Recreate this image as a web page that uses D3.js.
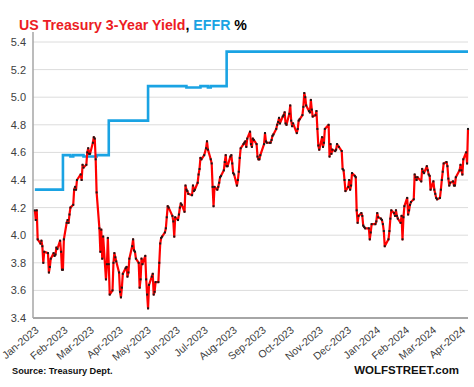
<!DOCTYPE html>
<html lang="en">
<head>
<meta charset="UTF-8">
<title>US Treasury 3-Year Yield, EFFR</title>
<style>
    body { margin: 0; background: #fff; }
    svg { display: block; font-family: "Liberation Sans", Arial, sans-serif; }
    .tick text { fill: #404040; }
</style>
</head>
<body>
<svg width="474" height="387"></svg>
<script src="https://d3js.org/d3.v7.min.js"></script>
<script>
    // axis labels
    const tickLabels = ["Jan-2023", "Feb-2023", "Mar-2023", "Apr-2023", "May-2023", "Jun-2023",
        "Jul-2023", "Aug-2023", "Sep-2023", "Oct-2023", "Nov-2023", "Dec-2023",
        "Jan-2024", "Feb-2024", "Mar-2024", "Apr-2024"];
    const yTicks = [3.4, 3.6, 3.8, 4.0, 4.2, 4.4, 4.6, 4.8, 5.0, 5.2, 5.4];

    // EFFR, value changes only
    const effrDates = ["2023-01-03", "2023-02-02", "2023-02-10", "2023-02-13", "2023-02-24", "2023-03-10",
        "2023-03-23", "2023-05-04", "2023-06-14", "2023-06-29", "2023-07-07", "2023-07-10",
        "2023-07-27", "2024-04-10"];
    const effrValues = [4.33, 4.58, 4.57, 4.58, 4.57, 4.58, 4.83, 5.08, 5.07, 5.08, 5.07, 5.08, 5.33, 5.33];

    // bond market closed
    const holidays = ["2023-01-02", "2023-01-16", "2023-02-20", "2023-05-29", "2023-06-19", "2023-07-04",
        "2023-09-04", "2023-10-09", "2023-11-10", "2023-11-23", "2023-12-25", "2024-01-01",
        "2024-01-15", "2024-02-19", "2024-03-29"];

    // 3-year yield, one value per trading day, month by month
    const yieldMonths = ["2023-01", "2023-02", "2023-03", "2023-04", "2023-05", "2023-06", "2023-07", "2023-08",
        "2023-09", "2023-10", "2023-11", "2023-12", "2024-01", "2024-02", "2024-03", "2024-04"];
    const yieldValues = [
        [4.18, 4.11, 4.18, 3.97, 3.94, 3.96, 3.92, 3.80, 3.88, 3.87, 3.73, 3.77, 3.83, 3.87, 3.85, 3.86, 3.91, 3.90, 3.96, 3.88],
        [3.75, 3.75, 3.97, 4.09, 4.11, 4.09, 4.15, 4.20, 4.22, 4.33, 4.35, 4.33, 4.40, 4.44, 4.40, 4.51, 4.49, 4.51, 4.60],
        [4.63, 4.59, 4.59, 4.67, 4.71, 4.70, 4.55, 4.31, 4.05, 3.88, 4.04, 3.83, 3.99, 3.68, 3.79, 3.98, 3.79, 3.57, 3.60, 3.80, 3.87, 3.84, 3.81],
        [3.73, 3.59, 3.55, 3.62, 3.72, 3.76, 3.77, 3.70, 3.73, 3.83, 3.92, 3.97, 3.89, 3.88, 3.83, 3.80, 3.62, 3.68, 3.83, 3.79],
        [3.85, 3.68, 3.57, 3.47, 3.64, 3.70, 3.72, 3.57, 3.59, 3.66, 3.66, 3.80, 3.94, 3.98, 3.99, 4.02, 4.05, 4.13, 4.21, 4.20, 4.14, 4.10],
        [3.99, 4.13, 4.11, 4.15, 4.20, 4.23, 4.22, 4.17, 4.36, 4.33, 4.32, 4.30, 4.29, 4.36, 4.32, 4.33, 4.38, 4.44, 4.48, 4.56, 4.55],
        [4.58, 4.63, 4.68, 4.62, 4.55, 4.52, 4.35, 4.21, 4.35, 4.33, 4.35, 4.38, 4.42, 4.43, 4.47, 4.53, 4.58, 4.50, 4.50, 4.57],
        [4.58, 4.52, 4.45, 4.44, 4.36, 4.40, 4.46, 4.56, 4.63, 4.66, 4.67, 4.68, 4.64, 4.70, 4.75, 4.66, 4.64, 4.70, 4.69, 4.66, 4.57, 4.55, 4.55],
        [4.58, 4.66, 4.74, 4.68, 4.67, 4.67, 4.67, 4.69, 4.72, 4.73, 4.77, 4.80, 4.82, 4.85, 4.81, 4.86, 4.87, 4.89, 4.81, 4.80],
        [4.88, 4.94, 4.83, 4.79, 4.81, 4.74, 4.77, 4.83, 4.84, 4.87, 4.93, 5.03, 5.00, 4.94, 4.90, 4.89, 4.98, 4.91, 4.86, 4.87, 4.90],
        [4.77, 4.65, 4.62, 4.71, 4.64, 4.67, 4.77, 4.80, 4.57, 4.66, 4.59, 4.62, 4.61, 4.62, 4.66, 4.64, 4.61, 4.48, 4.47, 4.40],
        [4.32, 4.35, 4.40, 4.33, 4.36, 4.45, 4.43, 4.42, 4.18, 4.09, 4.14, 4.16, 4.14, 4.07, 4.06, 4.05, 4.05, 3.97, 4.02, 4.08],
        [4.08, 4.10, 4.16, 4.13, 4.12, 4.11, 4.08, 4.03, 3.92, 3.97, 4.03, 4.12, 4.18, 4.16, 4.14, 4.18, 4.14, 4.12, 4.09, 4.14, 3.97],
        [4.13, 4.21, 4.27, 4.15, 4.18, 4.22, 4.24, 4.26, 4.44, 4.42, 4.40, 4.42, 4.39, 4.48, 4.46, 4.45, 4.50, 4.47, 4.44, 4.43],
        [4.33, 4.39, 4.33, 4.30, 4.27, 4.26, 4.27, 4.33, 4.40, 4.46, 4.52, 4.53, 4.50, 4.41, 4.36, 4.38, 4.39, 4.36, 4.36, 4.42],
        [4.47, 4.51, 4.47, 4.44, 4.55, 4.60, 4.52, 4.77]
    ];

    const parseDay = d3.timeParse("%Y-%m-%d");
    const fmtDay = d3.timeFormat("%Y-%m-%d");
    const fmtMonth = d3.timeFormat("%Y-%m");

    // match the values to the trading days of each month
    const tradingDays = d3.timeDay.range(new Date(2023, 0, 1), new Date(2024, 3, 11))
        .filter(d => d.getDay() !== 0 && d.getDay() !== 6 && !holidays.includes(fmtDay(d)));
    const yieldData = [];
    yieldMonths.forEach((m, i) => {
        const days = tradingDays.filter(d => fmtMonth(d) === m);
        const vals = yieldValues[i];
        for (let k = 0; k < Math.min(days.length, vals.length); k++) {
            yieldData.push({ date: days[k], value: vals[k] });
        }
    });
    const effrData = effrDates.map((d, i) => ({ date: parseDay(d), value: effrValues[i] }));

    const svg = d3.select("svg");

    const x = d3.scaleTime()
        .domain([new Date(2023, 0, 1), new Date(2024, 3, 10)])
        .range([33, 468]);
    const y = d3.scaleLinear().domain([3.4, 5.4]).range([318, 42]);

    // gridlines
    svg.append("g")
        .selectAll("line")
        .data(yTicks.slice(1))
        .enter().append("line")
        .attr("x1", 33).attr("x2", 468)
        .attr("y1", d => y(d)).attr("y2", d => y(d))
        .style("stroke", "#dcdcdc")
        .style("stroke-width", 1);

    // y axis
    const yAxis = svg.append("g")
        .attr("transform", "translate(33,0)")
        .call(d3.axisLeft(y).tickValues(yTicks).tickFormat(d3.format(".1f")).tickSize(0).tickPadding(7));
    yAxis.select(".domain").remove();
    yAxis.selectAll("text").style("font-size", "11px");
    svg.append("line")
        .attr("x1", 33).attr("x2", 33)
        .attr("y1", 32).attr("y2", 318)
        .style("stroke", "#a6a6a6")
        .style("stroke-width", 1.5);

    // x axis
    const tickDates = tickLabels.map(d3.timeParse("%b-%Y"));
    const xAxis = svg.append("g")
        .attr("transform", "translate(0,318)")
        .call(d3.axisBottom(x).tickValues(tickDates).tickFormat(d3.timeFormat("%b-%Y")).tickSize(0));
    xAxis.select(".domain").remove();
    xAxis.selectAll("text")
        .style("font-size", "10.5px")
        .style("text-anchor", "end")
        .attr("dy", 0)
        .attr("transform", "translate(4,11) rotate(-40)");
    svg.append("line")
        .attr("x1", 33).attr("x2", 468)
        .attr("y1", 318).attr("y2", 318)
        .style("stroke", "#a6a6a6")
        .style("stroke-width", 2);

    // EFFR
    svg.append("path")
        .datum(effrData)
        .attr("d", d3.line().x(d => x(d.date)).y(d => y(d.value)).curve(d3.curveStepAfter))
        .style("fill", "none")
        .style("stroke", "#1aa3e3")
        .style("stroke-width", 2.6);

    // 3-year yield
    svg.append("path")
        .datum(yieldData)
        .attr("d", d3.line().x(d => x(d.date)).y(d => y(d.value)))
        .style("fill", "none")
        .style("stroke", "#ff0000")
        .style("stroke-width", 2.2)
        .style("stroke-linejoin", "round");

    svg.append("g")
        .selectAll("rect")
        .data(yieldData)
        .enter().append("rect")
        .attr("x", d => x(d.date) - 1)
        .attr("y", d => y(d.value) - 1)
        .attr("width", 2)
        .attr("height", 2)
        .style("fill", "#1a1a1a");

    // title
    const title = svg.append("text")
        .attr("x", 19)
        .attr("y", 30)
        .style("font-size", "15.5px")
        .style("font-weight", "bold");
    title.append("tspan").text("US Treasury 3-Year Yield").style("fill", "#ec1c24");
    title.append("tspan").text(", ").style("fill", "#000");
    title.append("tspan").text("EFFR").style("fill", "#1aa3e3");
    title.append("tspan").text(" %").style("fill", "#000");
    const tw = title.node().getComputedTextLength();
    const sx = 228 / tw;
    title.attr("transform", `translate(${19 * (1 - sx)},0) scale(${sx},1)`);

    // footer
    svg.append("text")
        .attr("x", 12)
        .attr("y", 374)
        .style("font-size", "9.2px")
        .style("font-weight", "bold")
        .style("fill", "#111")
        .text("Source: Treasury Dept.");

    svg.append("text")
        .attr("x", 459)
        .attr("y", 374)
        .attr("text-anchor", "end")
        .style("font-size", "11.5px")
        .style("font-weight", "bold")
        .style("fill", "#111")
        .text("WOLFSTREET.com");
</script>
</body>
</html>
